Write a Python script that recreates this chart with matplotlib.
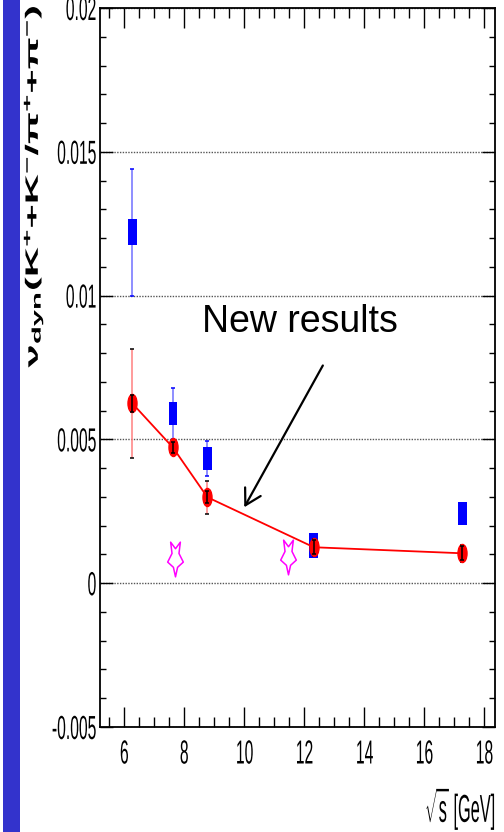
import matplotlib
matplotlib.use("Agg")
import matplotlib.pyplot as plt
import matplotlib.patheffects as pe
from matplotlib.path import Path
from matplotlib.patches import Rectangle
from matplotlib.ticker import MultipleLocator
from matplotlib.transforms import Affine2D

# ---- data -------------------------------------------------------------
sqrt_s = [6.27, 7.62, 8.77, 12.32, 17.27]

# new results (red)
new_vals = [0.00625, 0.00472, 0.00299, 0.00125, 0.00104]
new_err_outer = [0.0019, 0.00025, 0.00058, 0.0003, 0.0003]
new_err_inner = [0.00028, 0.00018, 0.0002, 0.00025, 0.00025]

# earlier measurements (blue)
old_vals = [0.0122, 0.0059, 0.00434, 0.00132, 0.00243]
old_err = [0.0022, 0.0009, 0.0006, 0.0, 0.0]
old_sys = [0.00045, 0.0004, 0.0004, 0.00043, 0.0004]

# model (magenta stars)
model_x = [7.69, 11.47]
model_vals = [0.00083, 0.0009]

x_ticks = [6, 8, 10, 12, 14, 16, 18]
x_tick_labels = ["6", "8", "10", "12", "14", "16", "18"]
y_ticks = [-0.005, 0, 0.005, 0.01, 0.015, 0.02]
y_tick_labels = ["-0.005", "0", "0.005", "0.01", "0.015", "0.02"]

# ---- style ------------------------------------------------------------
plt.rcParams["font.family"] = ["Liberation Sans", "DejaVu Sans"]
plt.rcParams["mathtext.fontset"] = "custom"
plt.rcParams["mathtext.rm"] = "Liberation Sans"
plt.rcParams["mathtext.it"] = "Liberation Sans"
plt.rcParams["mathtext.bf"] = "Liberation Sans:bold"


class Squeeze(pe.AbstractPathEffect):
    """Compress glyph outlines along screen x about an edge or the centre."""

    def __init__(self, factor, anchor="center"):
        super().__init__()
        self.factor = factor
        self.anchor = anchor

    def draw_path(self, renderer, gc, tpath, affine, rgbFace=None):
        if len(tpath.vertices) == 0:
            return
        ext = tpath.get_extents(affine)
        if self.anchor == "right":
            x0 = ext.x1
        elif self.anchor == "left":
            x0 = ext.x0
        else:
            x0 = 0.5 * (ext.x0 + ext.x1)
        t = affine + Affine2D().translate(-x0, 0).scale(self.factor, 1).translate(x0, 0)
        renderer.draw_path(gc, tpath, t, rgbFace)


# tall ellipse marker for the new results
_circ = Path.unit_circle()
ellipse = Path(_circ.vertices * [1.0, 2.0], _circ.codes)

# elongated open star for the model points
_sv = [(0, -1), (0.12, -0.45), (0.45, -0.15), (0.2, 0.35), (0.28, 1.0),
       (0, 0.62), (-0.28, 1.0), (-0.2, 0.35), (-0.45, -0.15), (-0.12, -0.45),
       (0, -1)]
star = Path(_sv, [Path.MOVETO] + [Path.LINETO] * (len(_sv) - 2) + [Path.CLOSEPOLY])

# ---- figure -----------------------------------------------------------
fig = plt.figure(figsize=(5.04, 8.32), dpi=100)
fig.add_artist(Rectangle((3 / 504, 0), 17 / 504, 1, transform=fig.transFigure,
                         facecolor="#3333cc", edgecolor="none", zorder=0))

ax = fig.add_axes([100 / 504, 1 - 727 / 832, 395 / 504, 719 / 832])
ax.set_xlim(5.19, 18.36)
ax.set_ylim(-0.005, 0.02)

ax.set_xticks(x_ticks, x_tick_labels)
ax.set_yticks(y_ticks, y_tick_labels)
ax.xaxis.set_minor_locator(MultipleLocator(0.5))
ax.yaxis.set_minor_locator(MultipleLocator(0.001))
ax.tick_params(axis="both", which="both", direction="in", top=True, right=True,
               color="black", width=1)
ax.tick_params(axis="x", which="major", length=14.4, pad=9, labelsize=24)
ax.tick_params(axis="x", which="minor", length=7.2)
ax.tick_params(axis="y", which="major", length=9.4, pad=2.2, labelsize=24)
ax.tick_params(axis="y", which="minor", length=4.3)
for sp in ax.spines.values():
    sp.set_linewidth(1.3)

ax.set_axisbelow(True)
ax.grid(axis="y", which="major", linestyle=(0, (1, 1)), color="#555555", lw=1)

# earlier measurements: error bars and boxes
_, caps, _ = ax.errorbar(sqrt_s, old_vals, yerr=old_err, fmt="none",
                         ecolor="#7070ff", elinewidth=1.1, capsize=1.6,
                         capthick=1.1, zorder=2)
for c in caps:
    c.set_color("#0000ff")
    c.set_markeredgecolor("#0000ff")
ax.bar(sqrt_s, [2 * s for s in old_sys],
       bottom=[v - s for v, s in zip(old_vals, old_sys)],
       width=0.29, color="#0000ff", zorder=3)

# model stars
ax.plot(model_x, model_vals, linestyle="none", marker=star, markersize=25,
        mfc="none", mec="#ff00ff", mew=1.1, zorder=4)

# new results
ax.plot(sqrt_s, new_vals, color="red", lw=1.3, zorder=4)
_, caps, _ = ax.errorbar(sqrt_s, new_vals, yerr=new_err_outer, fmt="none",
                         ecolor="#ff8080", elinewidth=1.1, capsize=1.6,
                         capthick=1.1, zorder=5)
for c in caps:
    c.set_color("black")
    c.set_markeredgecolor("black")
ax.plot(sqrt_s, new_vals, linestyle="none", marker=ellipse, markersize=13,
        color="red", mec="red", zorder=6)
ax.errorbar(sqrt_s, new_vals, yerr=new_err_inner, fmt="none", ecolor="black",
            elinewidth=1.1, capsize=1.6, capthick=1.1, zorder=7)

# annotation
ax.text(8.59, 0.00872, "New results", fontsize=27, ha="left", va="baseline")
ax.annotate("", xy=(10.0, 0.00264), xytext=(12.62, 0.00757),
            arrowprops=dict(arrowstyle="->,head_length=0.56,head_width=0.32",
                            lw=1.6, color="black", mutation_scale=20,
                            shrinkA=0, shrinkB=0))

# axis labels
ax.set_ylabel(r"$\mathbf{\nu_{dyn}(K^{+}{+}K^{-}/\pi^{+}{+}\pi^{-})}$",
              loc="top", fontsize=30)
ax.yaxis.set_label_coords(-0.137, 1.004)
ax.yaxis.label.set_path_effects([Squeeze(0.43, "right")])

ax.set_xlabel(r"$\sqrt{s}$ [GeV]", loc="right", fontsize=28)
ax.xaxis.set_label_coords(1.0, -0.080)
ax.xaxis.label.set_path_effects([Squeeze(0.42, "right")])

for t in ax.get_yticklabels():
    t.set_path_effects([Squeeze(0.47, "right")])
for t in ax.get_xticklabels():
    t.set_path_effects([Squeeze(0.47, "center")])

fig.savefig("out.png", dpi=100)
